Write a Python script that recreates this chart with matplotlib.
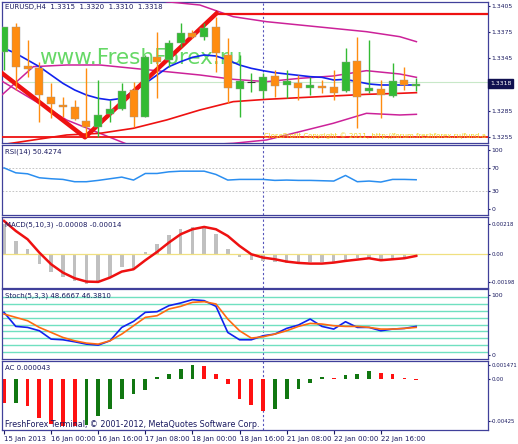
import numpy as np
import matplotlib
matplotlib.use('Agg')
import matplotlib.pyplot as plt

# ---- data ----
N = 36
# candle data as price values
def px2price(y3):
    return 1.3405 - (np.asarray(y3, float) - 18) / 393 * 0.015

c_open  = px2price([155, 80, 198, 205, 292, 315, 322, 362, 380, 343, 328, 270, 352, 172, 180, 130, 100, 110, 80, 165, 267, 245, 272, 228, 255, 250, 265, 258, 262, 272, 182, 272, 268, 288, 241, 258])
c_close = px2price([80, 200, 208, 285, 312, 320, 357, 382, 345, 328, 272, 350, 170, 185, 130, 100, 110, 85, 160, 265, 243, 245, 232, 258, 243, 265, 255, 265, 278, 185, 292, 265, 285, 242, 255, 253])
c_high  = px2price([80, 70, 120, 185, 250, 290, 300, 205, 240, 300, 250, 245, 165, 95, 120, 70, 90, 70, 50, 115, 165, 220, 220, 210, 210, 225, 230, 240, 210, 145, 110, 120, 240, 190, 200, 235])
c_low   = px2price([210, 270, 230, 365, 355, 350, 360, 410, 410, 365, 330, 380, 352, 295, 200, 140, 115, 120, 215, 310, 350, 275, 295, 290, 295, 300, 285, 278, 300, 275, 385, 280, 355, 290, 270, 272])

ma_blue = px2price([145, 160, 180, 200, 225, 250, 270, 285, 295, 300, 295, 275, 250, 225, 200, 185, 172, 165, 168, 180, 195, 205, 212, 218, 222, 226, 230, 232, 240, 238, 245, 252, 255, 255, 255, 255])
band_x = np.array([0, 100, 200, 300, 400, 500, 600, 700, 800, 900, 1000, 1100, 1200, 1250])
band_mid = px2price([290, 200, 195, 195, 205, 215, 225, 238, 245, 235, 228, 212, 222, 232])
band_up = px2price([-80, -70, -60, -40, -20, 5, 15, 50, 65, 75, 85, 95, 110, 125])
band_lo = px2price([240, 300, 360, 400, 440, 440, 435, 430, 420, 395, 370, 340, 345, 343])
red_lo = px2price([435, 420, 405, 400, 385, 360, 330, 305, 298, 293, 288, 283, 280, 278])
zz_x = np.array([0, 255, 650])
zz_y = px2price([215, 412, 40])

rsi_y3 = np.array([85, 100, 103, 115, 118, 120, 127, 127, 123, 118, 113, 122, 102, 102, 97, 95, 95, 95, 105, 122, 120, 120, 120, 123, 122, 123, 123, 124, 125, 108, 127, 125, 128, 120, 120, 121])
rsi = 100 - (rsi_y3 - 30) / 1.8

macd_hist_y3 = np.array([250, 300, 325, 368, 393, 408, 420, 428, 420, 408, 378, 383, 333, 308, 283, 265, 258, 262, 278, 325, 348, 357, 360, 362, 365, 363, 363, 363, 363, 358, 352, 352, 358, 355, 350, 344])
macd_sig_y3 = np.array([240, 270, 295, 335, 370, 395, 412, 422, 423, 410, 392, 385, 358, 333, 305, 280, 265, 258, 265, 285, 315, 340, 350, 355, 362, 366, 368, 368, 365, 360, 356, 352, 358, 355, 352, 345])
macd_hist = (340 - macd_hist_y3) * 2.37e-5
macd_sig = (340 - macd_sig_y3) * 2.37e-5

k_y3 = np.array([80, 122, 125, 135, 160, 162, 168, 175, 178, 165, 125, 107, 80, 78, 60, 52, 42, 45, 62, 140, 162, 162, 150, 145, 128, 118, 100, 122, 130, 108, 125, 125, 135, 130, 128, 122])
d_y3 = np.array([85, 95, 105, 125, 140, 155, 165, 172, 175, 165, 145, 120, 95, 90, 70, 62, 50, 48, 55, 100, 135, 157, 153, 145, 135, 122, 113, 115, 120, 122, 122, 125, 130, 130, 128, 125])
stoch_k = (207 - k_y3) / 1.79
stoch_d = (207 - d_y3) / 1.79
stoch_levels = [5, 16, 28, 39, 50, 61, 74, 85, 97]

ac_y3 = np.array([352, 350, 360, 395, 412, 418, 418, 415, 390, 368, 340, 325, 312, 276, 265, 250, 240, 242, 266, 295, 338, 358, 375, 370, 340, 310, 292, 276, 277, 268, 266, 256, 264, 265, 277, 283])
ac_green = [0, 1, 0, 0, 0, 0, 0, 1, 1, 1, 1, 1, 1, 1, 1, 1, 1, 0, 0, 0, 0, 0, 0, 1, 1, 1, 1, 1, 0, 1, 1, 1, 0, 0, 0, 0]
ac = (282 - ac_y3) * 3.5e-5

date_idx = [0, 4, 8, 12, 16, 20, 24, 28, 32]
date_labels = ['15 Jan 2013', '16 Jan 00:00', '16 Jan 16:00', '17 Jan 08:00', '18 Jan 00:00',
               '18 Jan 16:00', '21 Jan 08:00', '22 Jan 00:00', '22 Jan 16:00']

# ---- layout ----
W, H = 518, 444
FRAME = '#40409a'
TXT = '#1a1a60'
FS = 5.0
YFS = 4.4
XL = (-0.17, 41.1)
VLINE = 22
idx = np.arange(N)
bx = (band_x - 12) / 35.35

fig = plt.figure(figsize=(W / 100, H / 100), dpi=100, facecolor='white')


def panel(top, bot, yfs=YFS):
    ax = fig.add_axes([2 / W, 1 - bot / H, 486 / W, (bot - top) / H])
    ax.set_xlim(*XL)
    ax.yaxis.tick_right()
    ax.tick_params(axis='y', labelsize=yfs, colors=TXT, length=1.5, pad=0.8)
    ax.tick_params(axis='x', bottom=False, labelbottom=False)
    for s in ax.spines.values():
        s.set_color(FRAME)
        s.set_linewidth(0.9)
    ax.axvline(VLINE, color='#5555bb', ls=(0, (2, 2)), lw=0.8, zorder=0)
    return ax


# main
ax = panel(2, 143)
ax.set_ylim(1.32481, 1.34096)
ax.set_yticks([1.3255, 1.3285, 1.3345, 1.3375, 1.3405])
ax.set_yticklabels(['1.3255', '1.3285', '1.3345', '1.3375', '1.3405'])
ax.text(0.285, 0.6, 'www.FreshForex.ru', transform=ax.transAxes, fontsize=15.5, color='#33cc33',
        alpha=0.75, ha='center', va='center', zorder=1)
ax.axhline(1.3318, color='#c8e8c8', lw=0.8, zorder=1)
ax.plot(bx, band_up, color='#cc2299', lw=1.1, zorder=3)
ax.plot(bx, band_mid, color='#cc2299', lw=1.1, zorder=3)
ax.plot(bx, band_lo, color='#cc2299', lw=1.1, zorder=3)
ax.plot(bx, red_lo, color='#ee1111', lw=1.2, zorder=3)
ax.plot(idx, ma_blue, color='#1122ee', lw=1.2, zorder=4)
ax.axhline(px2price(410), color='#ee1111', lw=1.3, zorder=3)
ax.plot([(650 - 12) / 35.35, XL[1]], [px2price(42)] * 2, color='#ee1111', lw=1.6, zorder=3)
ax.plot((zz_x - 12) / 35.35, zz_y, color='#ee1111', lw=3.2, zorder=5)
for i in range(N):
    up = c_close[i] >= c_open[i]
    col = '#33bb33' if up else '#ff8c10'
    ax.vlines(i, c_low[i], c_high[i], color=col, lw=1, zorder=6)
    lo, hi = sorted([c_open[i], c_close[i]])
    if hi - lo < 0.00005:
        ax.hlines(c_close[i], i - 0.34, i + 0.34, color='#333333', lw=0.8, zorder=7)
    else:
        ax.bar(i, hi - lo, bottom=lo, width=0.68, color=col, edgecolor='#999999', lw=0.3, zorder=7)
ax.text(0.006, 0.985, 'EURUSD,H4  1.3315  1.3320  1.3310  1.3318', transform=ax.transAxes,
        fontsize=FS, color=TXT, va='top')
ax.text(0.995, 0.03, 'CloseProfit Copyright © 2011, http://forum.freshforex.ru/fund-a',
        transform=ax.transAxes, fontsize=FS, color='#f0d020', ha='right', va='bottom', zorder=8)
ax.text(1.004, px2price(250), '1.3318', transform=ax.get_yaxis_transform(), fontsize=YFS,
        color='white', va='center', ha='left',
        bbox=dict(boxstyle='square,pad=0.35', fc='#101050', ec='#101050'))

# RSI
ax = panel(145, 215)
ax.set_ylim(-10, 108)
ax.set_yticks([0, 30, 70, 100])
for lv in (30, 70):
    ax.axhline(lv, color='#bbbbbb', ls=(0, (2, 2)), lw=0.6)
ax.plot(idx, rsi, color='#2a8ef0', lw=1.1)
ax.text(0.006, 0.95, 'RSI(14) 50.4274', transform=ax.transAxes, fontsize=FS, color=TXT, va='top')

# MACD
ax = panel(217, 288, yfs=3.9)
ax.set_ylim(-0.0024, 0.00265)
ax.set_yticks([-0.00198, 0, 0.00218])
ax.set_yticklabels(['-0.00198', '0.00', '0.00218'])
ax.axhline(0, color='#f0e080', lw=0.9)
ax.bar(idx, macd_hist, width=0.3, color='#c0c0c0')
ax.plot(idx, macd_sig, color='#ee1111', lw=1.8)
ax.text(0.006, 0.93, 'MACD(5,10,3) -0.00008 -0.00014', transform=ax.transAxes, fontsize=FS, color=TXT, va='top')

# Stochastic
ax = panel(289, 359)
ax.set_ylim(-7, 110)
ax.set_yticks([0, 100])
for lv in stoch_levels:
    ax.axhline(lv, color='#70e0c0', lw=1.0)
ax.plot(idx, stoch_k, color='#1122ee', lw=1.2)
ax.plot(idx, stoch_d, color='#ff6a10', lw=1.2)
ax.text(0.006, 0.95, 'Stoch(5,3,3) 48.6667 46.3810', transform=ax.transAxes, fontsize=FS, color=TXT, va='top')

# AC
ax = panel(361, 430, yfs=3.9)
ax.set_ylim(-0.0052, 0.0019)
ax.set_yticks([-0.00425, 0, 0.001471])
ax.set_yticklabels(['-0.00425', '0.00', '0.001471'])
ax.bar(idx, ac, width=0.32, color=['#117711' if g else '#ff1111' for g in ac_green])
ax.text(0.006, 0.94, 'AC 0.000043', transform=ax.transAxes, fontsize=FS, color=TXT, va='top')
ax.text(0.006, 0.02, 'FreshForex Terminal, © 2001-2012, MetaQuotes Software Corp.',
        transform=ax.transAxes, fontsize=FS + 0.8, color=TXT, va='bottom')
ax.set_xticks(date_idx)
ax.set_xticklabels(date_labels, ha='left')
ax.tick_params(axis='x', bottom=True, labelbottom=True, labelsize=FS, colors=TXT, length=3, pad=1)

fig.savefig('out.png', dpi=100, facecolor='white')
